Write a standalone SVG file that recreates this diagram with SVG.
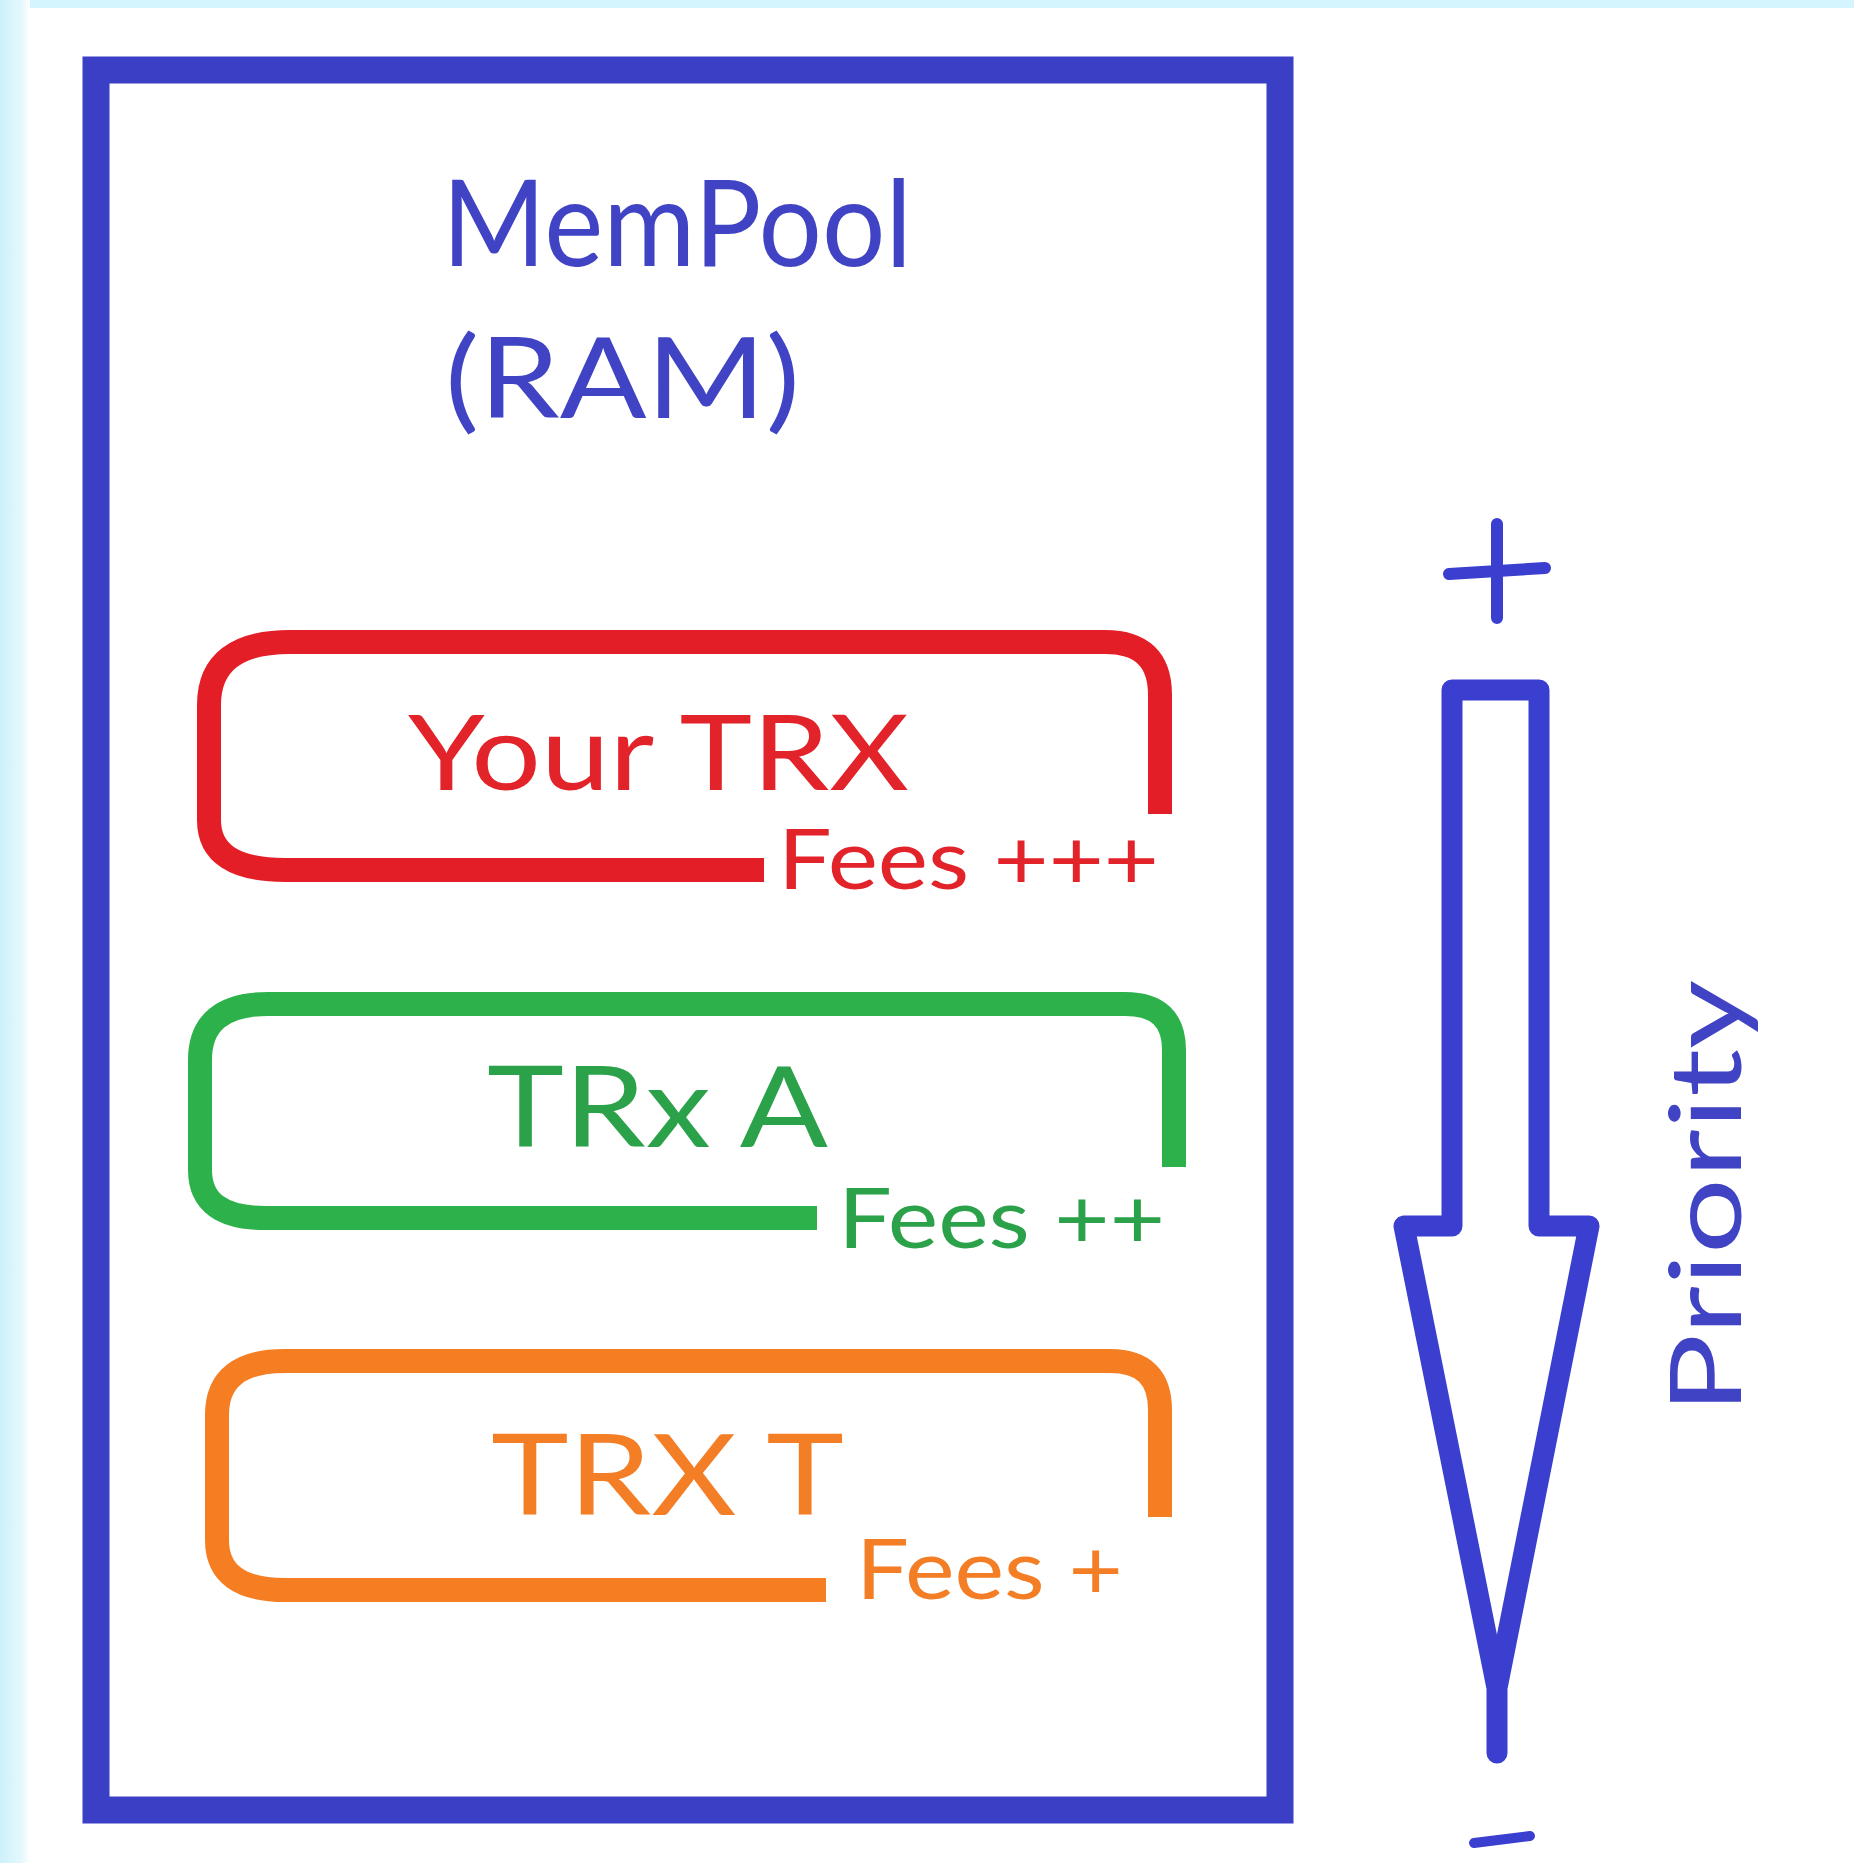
<svg xmlns="http://www.w3.org/2000/svg" width="1854" height="1863" viewBox="0 0 1854 1863">
  <defs>
    <linearGradient id="leftFade" x1="0" y1="0" x2="1" y2="0">
      <stop offset="0" stop-color="#cdf1fc"/>
      <stop offset="0.7" stop-color="#e4f7fd"/>
      <stop offset="1" stop-color="#ffffff"/>
    </linearGradient>
  </defs>
  <style>
    .frame { fill: none; stroke: #3b3fc6; stroke-width: 27; }
    .tx { fill: none; stroke-width: 24; stroke-linecap: butt; stroke-linejoin: round; }
    .hand { font-family: Lato, "Noto Sans", "Liberation Sans", sans-serif; }
    .blue { fill: #3f43c4; }
    .red { stroke: #e41e26; }
    .redt { fill: #e3232a; }
    .green { stroke: #2db24b; }
    .greent { fill: #2ba24a; }
    .orange { stroke: #f57d22; }
    .oranget { fill: #f47e26; }
    .arrow { fill: none; stroke: #3b3fd0; stroke-width: 21; stroke-linejoin: round; stroke-linecap: round; }
    .sign { fill: none; stroke: #3b3fd0; stroke-width: 12; stroke-linecap: round; }
  </style>

  <g id="background">
    <rect x="0" y="0" width="1854" height="1863" fill="#ffffff"/>
    <rect x="0" y="0" width="1854" height="8" fill="#d4f4fe"/>
    <rect x="0" y="0" width="30" height="1863" fill="url(#leftFade)"/>
  </g>

  <g id="mempool">
    <rect class="frame" x="96" y="70" width="1184" height="1740"/>
    <text class="hand blue" x="442" y="266" font-size="120" textLength="470" lengthAdjust="spacingAndGlyphs">MemPool</text>
    <text class="hand blue" x="445" y="418" font-size="112" textLength="355" lengthAdjust="spacingAndGlyphs">(RAM)</text>
  </g>

  <g id="tx-your">
    <path class="tx red" d="M 764 870 L 285 870 Q 209 870 209 820 L 209 705 Q 209 642 290 642 L 1105 642 Q 1160 642 1160 695 L 1160 814"/>
    <text class="hand redt" x="408" y="790" font-size="105" textLength="501" lengthAdjust="spacingAndGlyphs">Your TRX</text>
    <text class="hand redt" x="778" y="889" font-size="84" textLength="381" lengthAdjust="spacingAndGlyphs">Fees +++</text>
  </g>

  <g id="tx-a">
    <path class="tx green" d="M 817 1218 L 265 1218 Q 200 1218 200 1170 L 200 1060 Q 200 1004 268 1004 L 1125 1004 Q 1174 1004 1174 1050 L 1174 1167"/>
    <text class="hand greent" x="487" y="1147" font-size="112" textLength="341" lengthAdjust="spacingAndGlyphs">TRx A</text>
    <text class="hand greent" x="838" y="1248" font-size="84" textLength="327" lengthAdjust="spacingAndGlyphs">Fees ++</text>
  </g>

  <g id="tx-t">
    <path class="tx orange" d="M 826 1590 L 285 1590 Q 217 1590 217 1540 L 217 1415 Q 217 1361 285 1361 L 1110 1361 Q 1160 1361 1160 1410 L 1160 1517"/>
    <text class="hand oranget" x="491" y="1515" font-size="112" textLength="353" lengthAdjust="spacingAndGlyphs">TRX T</text>
    <text class="hand oranget" x="856" y="1599" font-size="84" textLength="267" lengthAdjust="spacingAndGlyphs">Fees +</text>
  </g>

  <g id="connectors">
    <g id="priority-arrow">
      <path class="sign" d="M 1449 574 L 1545 568 M 1497 524 L 1497 618"/>
      <path class="arrow" d="M 1497 1753 L 1497 1688 L 1404 1226 L 1452 1226 L 1452 690 L 1539 690 L 1539 1226 L 1589 1226 L 1497 1688"/>
      <path class="sign" style="stroke-width:10" d="M 1474 1843 L 1530 1836"/>
    </g>
  </g>

  <g id="priority-label">
    <text class="hand blue" transform="translate(1741,1414) rotate(-90)" x="0" y="0" font-size="98" textLength="434" lengthAdjust="spacingAndGlyphs">Priority</text>
  </g>
</svg>
